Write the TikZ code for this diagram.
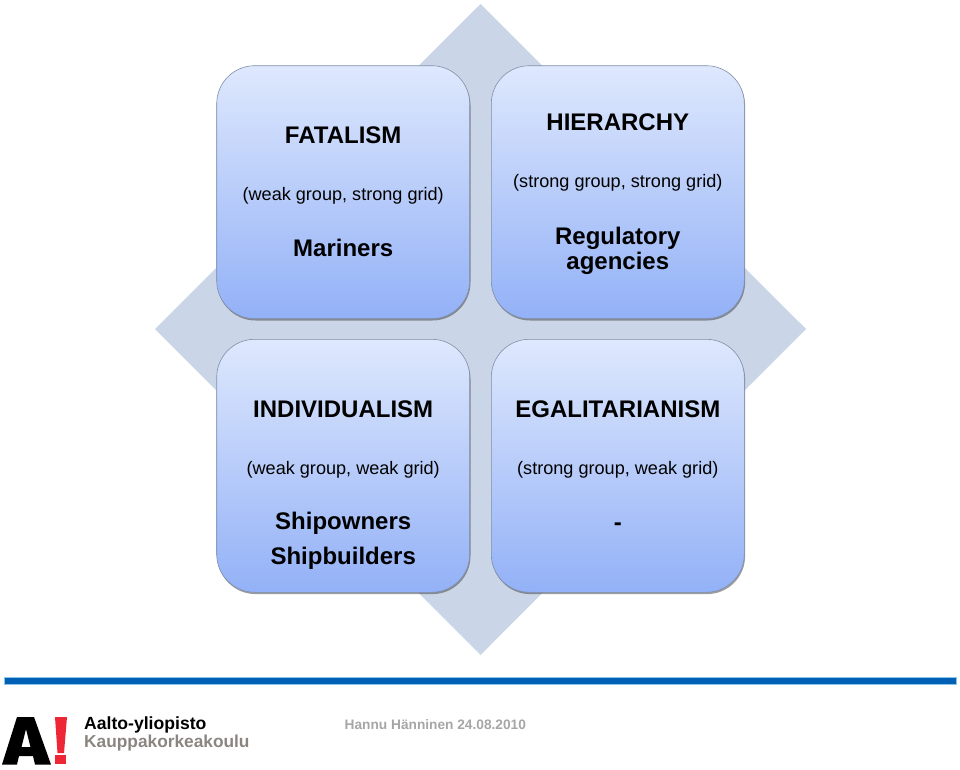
\documentclass[tikz,border=0pt]{standalone}
\usepackage{fontspec}
\setmainfont{Liberation Sans}
\usetikzlibrary{matrix, shadows}

\definecolor{diamondfill}{HTML}{CBD5E8}
\definecolor{boxtop}{HTML}{DEE8FD}
\definecolor{boxbottom}{HTML}{93B1F7}
\definecolor{boxline}{HTML}{7F8FA8}
\definecolor{barblue}{HTML}{0060B6}
\definecolor{barlight}{HTML}{8CC4E8}
\definecolor{logored}{HTML}{EE2737}
\definecolor{logogrey}{HTML}{8A8580}
\definecolor{footgrey}{HTML}{A6A6A6}

\newcommand{\headtext}[1]{{\fontsize{24}{25}\bfseries\selectfont #1}}
\newcommand{\actortext}[1]{{\fontsize{24}{25}\bfseries\selectfont #1}}

\begin{document}
\begin{tikzpicture}
    [x=1pt, y=-1pt,
     every node/.style={anchor=center},
     quadrant/.style={rounded corners=38pt, draw=boxline, line width=0.6pt,
       top color=boxtop, bottom color=boxbottom, minimum size=253pt, inner sep=0pt,
       align=center, font=\fontsize{18.1}{25}\selectfont,
       drop shadow={shadow xshift=0.8pt, shadow yshift=-1.8pt, opacity=0.55, fill=black!70}},
     logotext/.style={anchor=base west, inner sep=0pt, font=\fontsize{17.6}{20}\bfseries\selectfont}]

    \useasboundingbox (0,0) rectangle (960,770);

    \fill[diamondfill] (480.5,4) -- (806,329) -- (480.5,655) -- (155,329) -- cycle;

    \matrix (m) [column sep=21pt, row sep=20pt] at (480.5,329)
    {
      \node[quadrant] (fatalism) {\headtext{FATALISM}\\[32pt] (weak group, strong grid)\\[31pt] \actortext{Mariners}}; &
      \node[quadrant] (hierarchy) {\rule{0pt}{21pt}\headtext{HIERARCHY}\\[32pt] (strong group, strong grid)\\[32pt] \actortext{Regulatory}\\ \actortext{agencies}}; \\
      \node[quadrant] (individualism) {\rule{0pt}{56pt}\headtext{INDIVIDUALISM}\\[32pt] (weak group, weak grid)\\[30pt] \actortext{Shipowners}\\[10pt] \actortext{Shipbuilders}}; &
      \node[quadrant] (egalitarianism) {\headtext{EGALITARIANISM}\\[32pt] (strong group, weak grid)\\[31pt] \actortext{-}}; \\
    };

    \fill[barblue, draw=barlight, line width=0.5pt] (4,677) rectangle (956,684.5);

    % logo
    \fill[black] (17,717) -- (34,717) -- (51,764.5) -- (35,764.5) -- (33,756) -- (19,756) -- (17,764.5) -- (2,764.5) -- cycle
      (26,729) -- (21.5,747) -- (30.5,747) -- cycle;
    \fill[logored] (55,717) -- (67,717) -- (64,753) -- (57.5,753) -- cycle;
    \fill[logored] (55,755) rectangle (66,764);

    \node[logotext] (aalto) at (84,729) {Aalto-yliopisto};
    \node[logotext, text=logogrey, font=\fontsize{17.3}{20}\bfseries\selectfont] (kauppa) at (84,747) {Kauppakorkeakoulu};
    \node[anchor=base west, inner sep=0pt, text=footgrey, font=\fontsize{13.7}{16}\bfseries\selectfont] (author) at (344.5,729) {Hannu Hänninen 24.08.2010};
  \end{tikzpicture}
\end{document}
